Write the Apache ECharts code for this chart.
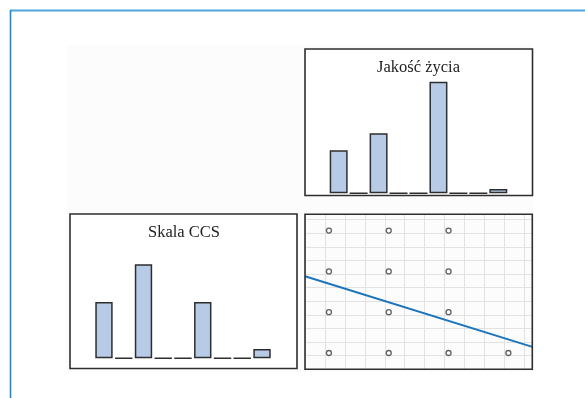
<!DOCTYPE html>
<html>
<head>
<meta charset="utf-8">
<script src="https://cdn.jsdelivr.net/npm/echarts@6/dist/echarts.min.js"></script>
<style>
html,body{margin:0;padding:0;background:#fff;}
#c{width:585px;height:398px;}
</style>
</head>
<body>
<div id="c"></div>
<script>
// ---- data ----
var categories = ['1','2','3','4','5','6','7','8','9'];
var qolValues = [10, 0, 14, 0, 0, 26, 0, 0, 1];      // Jakość życia
var ccsValues = [6, 0, 10, 0, 0, 6, 0, 0, 1];        // Skala CCS
var scatterPoints = [
  [1, 4], [2, 4], [3, 4],
  [1, 3], [2, 3], [3, 3],
  [1, 2], [2, 2], [3, 2],
  [1, 1], [2, 1], [3, 1], [4, 1]
];
var fitLine = [[0.6, 2.88], [4.4, 1.15]];
var titles = ['Jakość życia', 'Skala CCS'];

var chart = echarts.init(document.getElementById('c'), null, {renderer: 'canvas'});

var barColor = '#b7cbe6';
var edge = '#2e2e2e';
var serif = '"Liberation Serif", "Times New Roman", serif';

function hiddenCat(gi) {
  return {type: 'category', gridIndex: gi, data: categories,
    axisLine: {show: false}, axisTick: {show: false}, axisLabel: {show: false}, splitLine: {show: false}};
}
function hiddenVal(gi, max) {
  return {type: 'value', gridIndex: gi, min: 0, max: max,
    axisLine: {show: false}, axisTick: {show: false}, axisLabel: {show: false}, splitLine: {show: false}};
}
var third = 1 / 3;
function gridVal(gi) {
  return {type: 'value', gridIndex: gi, min: 0.6, max: 4.4, interval: third,
    axisLine: {show: false}, axisTick: {show: false}, axisLabel: {show: false},
    splitLine: {show: true, lineStyle: {color: '#e2e2e2', width: 1}}};
}

var option = {
  animation: false,
  backgroundColor: '#ffffff',
  title: [
    {text: titles[0], left: 418.5, top: 59.5, textAlign: 'center', padding: 0,
      textStyle: {fontSize: 16.5, fontFamily: serif, fontWeight: 'normal', color: '#222'}},
    {text: titles[1], left: 184, top: 224.5, textAlign: 'center', padding: 0,
      textStyle: {fontSize: 16.5, fontFamily: serif, fontWeight: 'normal', color: '#222'}}
  ],
  grid: [
    {left: 328.7, top: 64.5, width: 179.6, height: 128.8},
    {left: 94.1, top: 245.5, width: 177.8, height: 112.8},
    {left: 305, top: 214.3, width: 227.3, height: 155}
  ],
  xAxis: [hiddenCat(0), hiddenCat(1), gridVal(2)],
  yAxis: [hiddenVal(0, 30), hiddenVal(1, 12), gridVal(2)],
  graphic: [
    {type: 'rect', z: -10, shape: {x: 66, y: 45, width: 467, height: 327}, style: {fill: '#fcfcfc'}},
    {type: 'rect', z: -5, shape: {x: 305, y: 49, width: 227.5, height: 146.5}, style: {fill: '#ffffff', stroke: edge, lineWidth: 1.6}},
    {type: 'rect', z: -5, shape: {x: 70, y: 214, width: 227, height: 154.5}, style: {fill: '#ffffff', stroke: edge, lineWidth: 1.6}},
    {type: 'rect', z: 50, shape: {x: 305, y: 214.3, width: 227.3, height: 155}, style: {fill: 'none', stroke: edge, lineWidth: 1.6}},
    {type: 'line', z: 60, shape: {x1: 10, y1: 10.5, x2: 585, y2: 10.5}, style: {stroke: '#4ea7da', lineWidth: 2}},
    {type: 'line', z: 60, shape: {x1: 10.5, y1: 10, x2: 10.5, y2: 398}, style: {stroke: '#1a8ae0', lineWidth: 1.6}}
  ],
  series: [
    {type: 'bar', xAxisIndex: 0, yAxisIndex: 0, data: qolValues, barCategoryGap: '10%',
      itemStyle: {color: barColor, borderColor: edge, borderWidth: 1.5}},
    {type: 'bar', xAxisIndex: 1, yAxisIndex: 1, data: ccsValues, barCategoryGap: '12%',
      itemStyle: {color: barColor, borderColor: edge, borderWidth: 1.5}},
    {type: 'scatter', xAxisIndex: 2, yAxisIndex: 2, data: scatterPoints, symbol: 'circle', symbolSize: 5,
      itemStyle: {color: '#ffffff', borderColor: '#3a3a3a', borderWidth: 1.3}},
    {type: 'line', xAxisIndex: 2, yAxisIndex: 2, data: fitLine, showSymbol: false, symbol: 'none',
      lineStyle: {color: '#1c74bb', width: 2}}
  ]
};
chart.setOption(option);
</script>
</body>
</html>
